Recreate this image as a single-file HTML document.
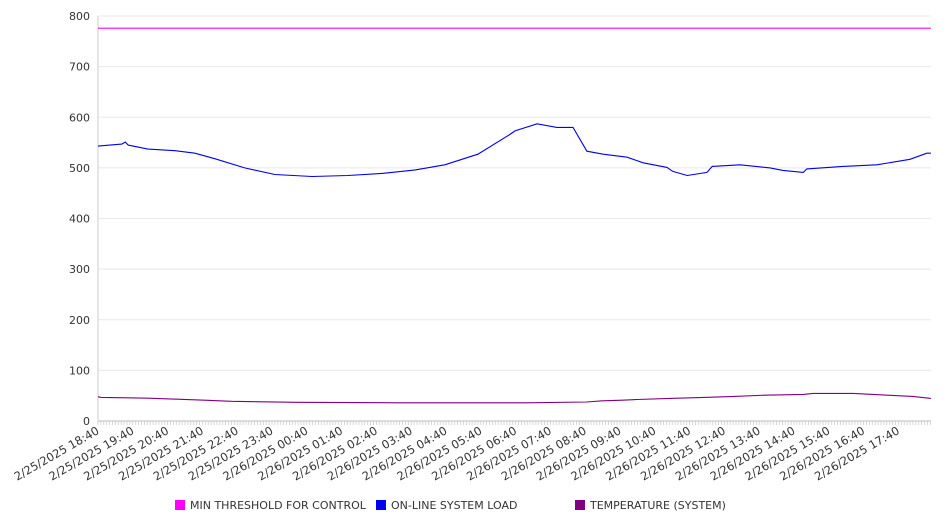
<!DOCTYPE html>
<html><head><meta charset="utf-8"><style>
html,body{margin:0;padding:0;background:#fff;}
svg{display:block;font-family:"DejaVu Sans","Liberation Sans",sans-serif;}
</style></head><body>
<svg id="chart" width="946" height="526" xmlns="http://www.w3.org/2000/svg">
<g id="grid"></g>
<g id="yaxis"></g>
<g id="xaxis"></g>
<g id="series"></g>
<g id="legend"></g>
</svg>
<script>
const yTicks = [0,100,200,300,400,500,600,700,800];
const xTickLabels = ["2/25/2025 18:40","2/25/2025 19:40","2/25/2025 20:40","2/25/2025 21:40","2/25/2025 22:40","2/25/2025 23:40","2/26/2025 00:40","2/26/2025 01:40","2/26/2025 02:40","2/26/2025 03:40","2/26/2025 04:40","2/26/2025 05:40","2/26/2025 06:40","2/26/2025 07:40","2/26/2025 08:40","2/26/2025 09:40","2/26/2025 10:40","2/26/2025 11:40","2/26/2025 12:40","2/26/2025 13:40","2/26/2025 14:40","2/26/2025 15:40","2/26/2025 16:40","2/26/2025 17:40"];
const thresholdMinutes = [0,1436];
const thresholdValues = [776,776];
const loadMinutes = [0,41,47,52,86,133,167,202,253,305,369,431,490,547,598,655,710,719,757,791,819,843,871,912,940,981,991,1016,1050,1059,1107,1159,1181,1216,1222,1284,1343,1400,1429,1436];
const loadValues = [543,547,551,545,537,534,529,518,500,487,483,485,489,496,506,527,566,573,587,580,580,533,527,521,510,501,493,485,491,503,506,500,495,491,498,503,506,517,529,529];
const tempMinutes = [0,5,86,136,184,230,342,519,740,842,870,904,930,985,1045,1097,1149,1216,1233,1303,1336,1370,1405,1436];
const tempValues = [48,46.7,45,43,41,39,37,36,36,37.5,40,41,42.5,44.6,46.7,48.6,51,52.6,54.5,54.5,52.6,50.6,48.6,44.6];
const legendNames = ["MIN THRESHOLD FOR CONTROL","ON-LINE SYSTEM LOAD","TEMPERATURE (SYSTEM)"];
const legendColors = ["#ff00ff","#0000ee","#800080"];

const NS="http://www.w3.org/2000/svg";
const X0=98,X1=931,Y0=421,Y1=16,YMAX=800,PXH=34.8;
function xs(m){return X0+m/60*PXH;}
function ys(v){return Y0-(v/YMAX)*(Y0-Y1);}
function mk(tag,attrs,parent){const e=document.createElementNS(NS,tag);for(const k in attrs)e.setAttribute(k,attrs[k]);parent.appendChild(e);return e;}
const grid=document.getElementById('grid'),ya=document.getElementById('yaxis'),xa=document.getElementById('xaxis'),ser=document.getElementById('series'),leg=document.getElementById('legend');
yTicks.forEach(v=>{
  const l=mk('line',{x1:X0,x2:X1,y1:ys(v),y2:ys(v),stroke:v===0?'#bbb':'#e8e8e8','stroke-width':1},grid);
  
  
  const t=mk('text',{x:90,y:ys(v)+4,'text-anchor':'end','font-size':11,fill:'#333'},ya);
  t.textContent=v;
  
  
});
const ax=mk('line',{x1:X0,x2:X0,y1:Y1,y2:Y0,stroke:'#ccc','stroke-width':1},ya);


for(let m=0;m<=1436;m+=5){
  const tk=mk('line',{x1:xs(m),x2:xs(m),y1:Y0,y2:Y0+4,stroke:'#ccc','stroke-width':0.8},xa);
  
  
}
xTickLabels.forEach((s,i)=>{
  const x=xs(i*60)+2,y=Y0+12;
  const t=mk('text',{x:x,y:y,'text-anchor':'end','font-size':11.5,fill:'#333',transform:`rotate(-30 ${x} ${y})`},xa);
  t.textContent=s;
  
  
});
function line(ms,vs,color,name){
  const p=mk('polyline',{points:ms.map((m,i)=>xs(m).toFixed(1)+','+ys(vs[i]).toFixed(1)).join(' '),fill:'none',stroke:color,'stroke-width':1.1},ser);
  
  
}
line(thresholdMinutes,thresholdValues,legendColors[0],'min-threshold-line');
line(loadMinutes,loadValues,legendColors[1],'system-load-line');
line(tempMinutes,tempValues,legendColors[2],'temperature-line');
const lx=[175,376,575];
legendNames.forEach((n,i)=>{
  const g=mk('g',{},leg);
  
  
  mk('rect',{x:lx[i],y:500,width:10,height:10,fill:legendColors[i]},g);
  const t=mk('text',{x:lx[i]+15,y:509,'font-size':11,fill:'#333'},g);
  t.textContent=n;
});
</script>
</body></html>
